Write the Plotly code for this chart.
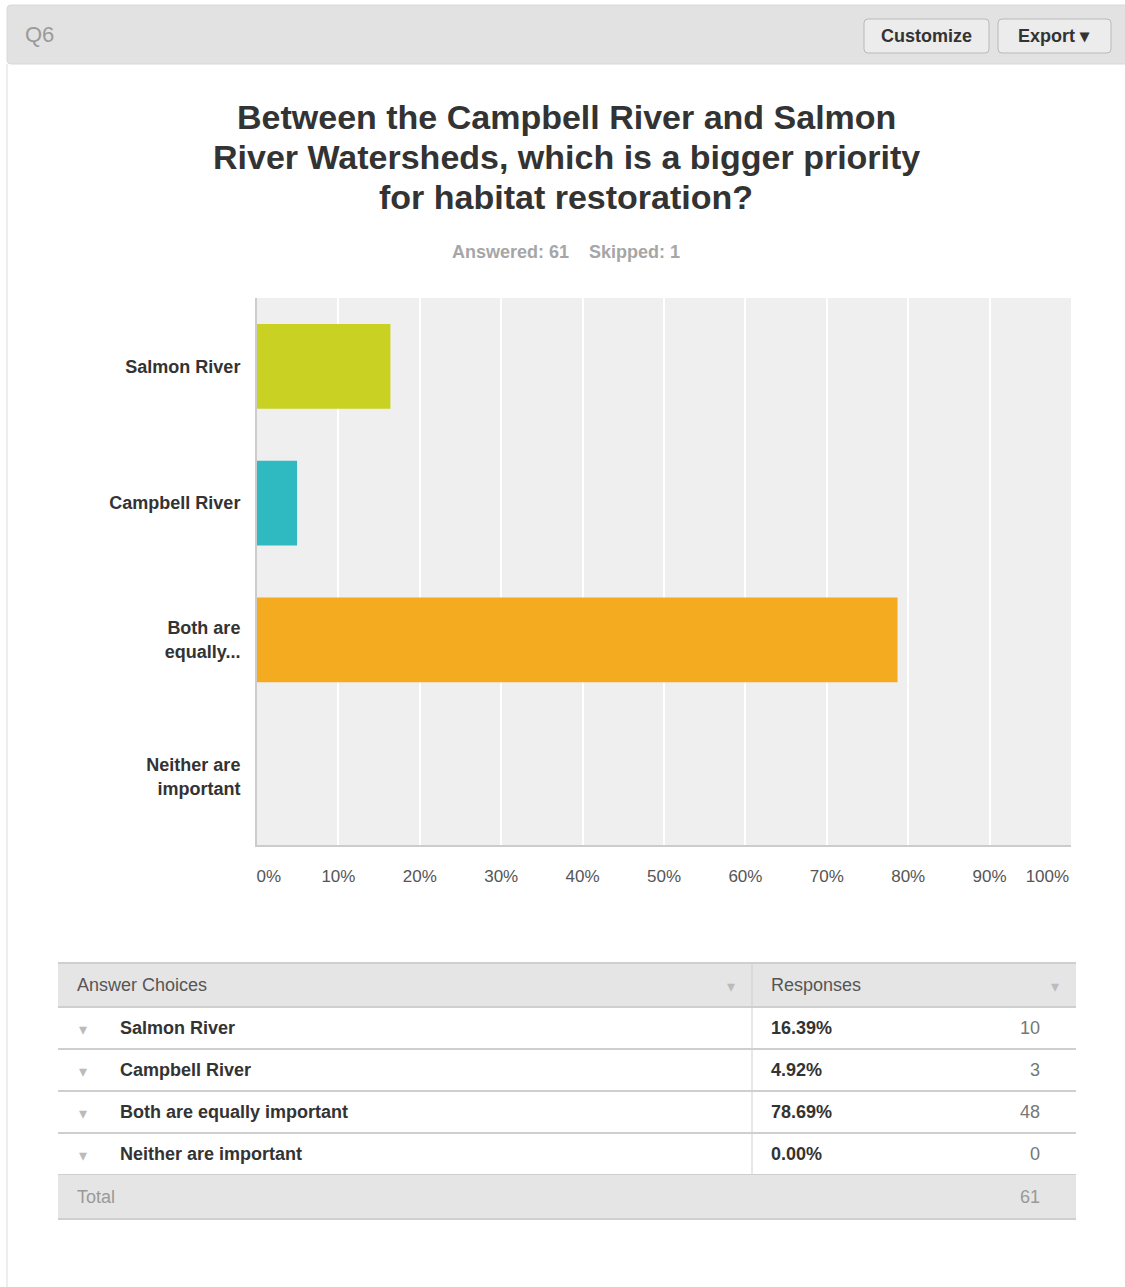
import plotly.graph_objects as go

# ---------------- data ----------------
question_id = "Q6"
title_lines = ["Between the Campbell River and Salmon",
               "River Watersheds, which is a bigger priority",
               "for habitat restoration?"]
answered = 61
skipped = 1
axis_labels = ["Salmon River", "Campbell River", "Both are<br>equally...", "Neither are<br>important"]
choices = ["Salmon River", "Campbell River", "Both are equally important", "Neither are important"]
percents = [16.39, 4.92, 78.69, 0.00]
counts = [10, 3, 48, 0]
bar_colors = ["#c9d222", "#2fb9c1", "#f5ab1f", "#8dc63f"]
x_ticks = [0, 10, 20, 30, 40, 50, 60, 70, 80, 90, 100]

# ---------------- geometry helpers (pixel -> paper) ----------------
W, H = 1125, 1287
L, R, T, B = 257, 1071, 298, 845
PW, PH = R - L, B - T


def px(x):
    return (x - L) / PW


def py(y):
    return (B - y) / PH


FONT = "Liberation Sans, Arial, Helvetica, sans-serif"

fig = go.Figure()
fig.add_trace(go.Bar(
    x=percents, y=axis_labels, orientation="h",
    marker=dict(color=bar_colors, line=dict(width=0)),
    hoverinfo="skip", showlegend=False,
))

shapes = []
annotations = []


def rect(x0, y0, x1, y1, fill=None, line=None, lw=1, layer="below"):
    shapes.append(dict(type="rect", xref="paper", yref="paper",
                       x0=px(x0), x1=px(x1), y0=py(y1), y1=py(y0),
                       fillcolor=fill or "rgba(0,0,0,0)",
                       line=dict(color=line or "rgba(0,0,0,0)", width=lw if line else 0),
                       layer=layer))


def rrect(x0, y0, x1, y1, r, fill, line, lw=1):
    rx, ry = r / PW, r / PH
    a0, a1, b0, b1 = px(x0), px(x1), py(y1), py(y0)
    path = (f"M{a0+rx},{b0} L{a1-rx},{b0} Q{a1},{b0} {a1},{b0+ry} "
            f"L{a1},{b1-ry} Q{a1},{b1} {a1-rx},{b1} L{a0+rx},{b1} "
            f"Q{a0},{b1} {a0},{b1-ry} L{a0},{b0+ry} Q{a0},{b0} {a0+rx},{b0} Z")
    shapes.append(dict(type="path", xref="paper", yref="paper", path=path,
                       fillcolor=fill, line=dict(color=line, width=lw), layer="below"))


def hline(x0, x1, y, color="#cccccc", w=1):
    shapes.append(dict(type="line", xref="paper", yref="paper",
                       x0=px(x0), x1=px(x1), y0=py(y), y1=py(y),
                       line=dict(color=color, width=w), layer="below"))


def vline(x, y0, y1, color="#cccccc", w=1):
    shapes.append(dict(type="line", xref="paper", yref="paper",
                       x0=px(x), x1=px(x), y0=py(y0), y1=py(y1),
                       line=dict(color=color, width=w), layer="below"))


def text(x, y, s, size=18, color="#333333", anchor="left", bold=False):
    annotations.append(dict(xref="paper", yref="paper", x=px(x), y=py(y),
                            text=(f"<b>{s}</b>" if bold else s), showarrow=False,
                            xanchor=anchor, yanchor="middle",
                            font=dict(family=FONT, size=size, color=color)))


# ---------------- card / header ----------------
vline(7, 64, 1300, "#dddddd", 1)
rrect(7, 5, 1140, 64, 4, "#e2e2e2", "#d8d8d8")
text(23, 34, question_id, size=22, color="#9a9a9a")
rrect(864, 19, 989, 53, 4, "#ececec", "#b9b9b9")
text(926, 36, "Customize", size=18, color="#333333", anchor="center", bold=True)
rrect(998, 19, 1111, 53, 4, "#ececec", "#b9b9b9")
text(1054, 36, "Export ▾", size=18, color="#333333", anchor="center", bold=True)

# ---------------- title ----------------
for i, line in enumerate(title_lines):
    text(566, 117 + 40 * i, line, size=34, color="#333333", anchor="center", bold=True)
text(566, 252, f"Answered: {answered}&nbsp;&nbsp;&nbsp;&nbsp;Skipped: {skipped}",
     size=18, color="#a6a6a6", anchor="center", bold=True)

# ---------------- table ----------------
TX0, TX1, TDIV = 58, 1076, 752
head_y0, head_y1 = 963, 1007
row_h = 42
rect(TX0, head_y0, TX1, head_y1, fill="#e5e5e5")
hline(TX0, TX1, head_y0, "#cfcfcf", 2)
hline(TX0, TX1, head_y1, "#cfcfcf", 2)
text(75, 985, "Answer Choices", color="#555555")
text(769, 985, "Responses", color="#555555")
text(731, 986, "▾", size=16, color="#bbbbbb", anchor="center")
text(1055, 986, "▾", size=16, color="#bbbbbb", anchor="center")

for i, (c, p, n) in enumerate(zip(choices, percents, counts)):
    y0 = head_y1 + i * row_h
    yc = y0 + row_h / 2
    text(83, yc + 1, "▾", size=16, color="#bbbbbb", anchor="center")
    text(118, yc, c, bold=True)
    text(769, yc, f"{p:.2f}%", bold=True)
    text(1042, yc, str(n), color="#777777", anchor="right")
    hline(TX0, TX1, y0 + row_h, "#cfcfcf", 2)

tot_y0 = head_y1 + len(choices) * row_h
rect(TX0, tot_y0, TX1, tot_y0 + 44, fill="#e5e5e5")
hline(TX0, TX1, tot_y0 + 44, "#cfcfcf", 2)
vline(TDIV, head_y0, tot_y0, "#cfcfcf", 1)
text(75, tot_y0 + 22, "Total", color="#999999")
text(1042, tot_y0 + 22, str(sum(counts)), color="#999999", anchor="right")

# first/last tick labels sit inside the plot edges, as in the reference
tick_text = [f"{v}%" for v in x_ticks]
tick_text[0] = "&nbsp;" * 5 + tick_text[0]
tick_text[-1] = tick_text[-1] + "&nbsp;" * 10

fig.update_layout(
    width=W, height=H, autosize=False,
    margin=dict(l=L, r=W - R, t=T, b=H - B, pad=0, autoexpand=False),
    paper_bgcolor="#ffffff", plot_bgcolor="#efefef",
    bargap=0.38,
    shapes=shapes, annotations=annotations,
    font=dict(family=FONT, size=18, color="#555555"),
    xaxis=dict(range=[0, 100], tickmode="array", tickvals=x_ticks,
               ticktext=tick_text, automargin=False,
               showgrid=True, gridcolor="#ffffff", gridwidth=2,
               zeroline=False, showline=True, linecolor="#cccccc", linewidth=2,
               ticks="outside", ticklen=15, tickcolor="rgba(0,0,0,0)",
               tickfont=dict(family=FONT, size=17, color="#555555"),
               fixedrange=True),
    yaxis=dict(autorange="reversed", showgrid=False, zeroline=False,
               automargin=False,
               showline=True, linecolor="#cccccc", linewidth=2,
               ticks="outside", ticklen=11, tickcolor="rgba(0,0,0,0)",
               tickfont=dict(family=FONT, size=18, color="#333333", weight="bold"),
               fixedrange=True),
)

fig.write_html("out.html")
